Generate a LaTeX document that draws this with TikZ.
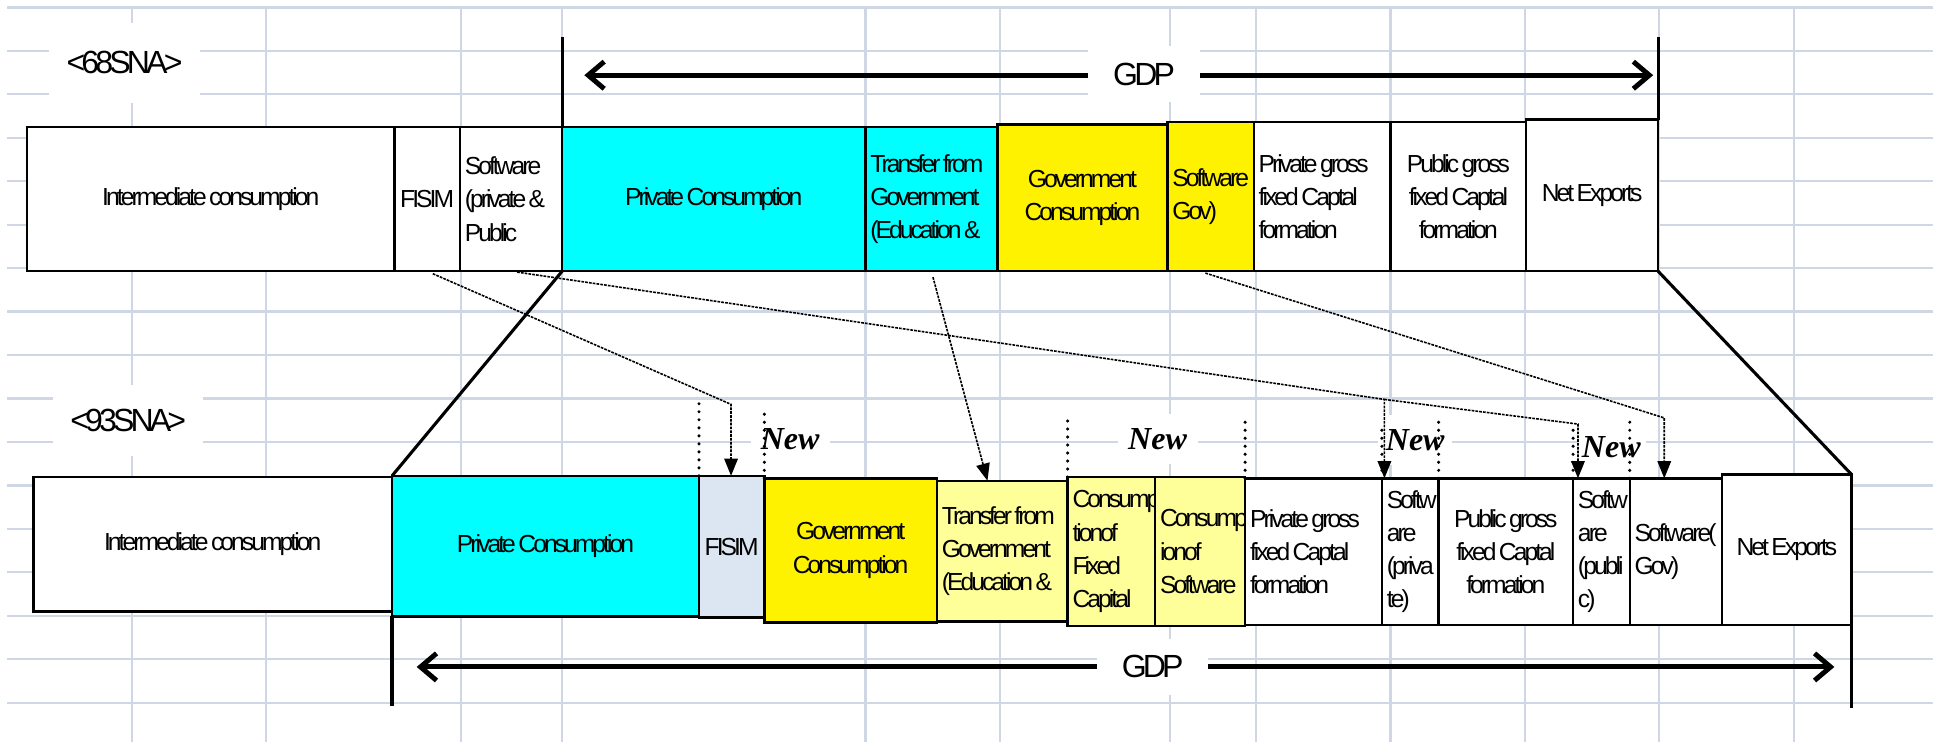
\documentclass[tikz,border=0pt]{standalone}
\usepackage{fontspec}
\setmainfont{Liberation Sans}[LetterSpace=-12]
\newfontfamily\nwfont{Liberation Serif}
\usetikzlibrary{arrows.meta}
\newcommand{\wsp}{\hspace{2pt}}
\definecolor{gridblue}{HTML}{CFD7E5}
\definecolor{aqua}{RGB}{0,255,255}
\definecolor{paleyellow}{HTML}{FFFF99}
\definecolor{fisimblue}{HTML}{DCE6F2}
\tikzset{
  gridline/.style={draw=gridblue, line width=1.8pt},
  cell/.style={draw, fill=white, line width=2pt, outer sep=0pt, inner xsep=4pt, inner ysep=0pt,
    anchor=north west, font=\fontsize{20}{27}\selectfont},
  tag/.style={fill=white, inner sep=0pt, font=\fontsize{26}{30}\selectfont},
  newtag/.style={fill=white, inner sep=0pt, minimum height=40, font=\nwfont\bfseries\itshape\fontsize{26}{30}\selectfont},
  gdpbar/.style={line width=2.5pt},
  gdparrow/.style={line width=4pt, -{Straight Barb[length=13pt,width=22pt]}},
  dotline/.style={line width=2.8pt, dash pattern=on 0pt off 6.5pt, line cap=round},
  link/.style={line width=1.3pt, dash pattern=on 2.2pt off 0.9pt, shorten <=5pt, -{Triangle[length=14pt,width=11pt]}},
}
\begin{document}
\begin{tikzpicture}[x=1pt, y=-1pt]
  \fill[white] (0,0) rectangle (1568,602);
  \useasboundingbox (0,0) rectangle (1568,602);
  \foreach \k in {0,...,16}
    \draw[gridline] (6,{6+35.25*\k}) -- (1568,{6+35.25*\k});
  \foreach \x in {107,216,374,456,702,811,949,1019,1128,1237,1346,1455}
    \draw[gridline] (\x,6) -- (\x,602);

  \node[tag, minimum width=123, minimum height=65] (sna68) at (101,51) {<68SNA>};
  \node[tag, minimum width=122, minimum height=58] (sna93) at (104,341) {<93SNA>};
  \node[tag, minimum width=91, minimum height=45] (gdp68) at (928,60) {GDP};
  \node[tag, minimum width=90, minimum height=46] (gdp93) at (935,541) {GDP};
  \coordinate (gdp68l) at (474,61);
  \coordinate (gdp68r) at (1341,61);
  \coordinate (gdp93l) at (338,541);
  \coordinate (gdp93r) at (1488,541);
  \draw[gdparrow] (gdp68.west |- gdp68l) -- (gdp68l);
  \draw[gdparrow] (gdp68.east |- gdp68r) -- (gdp68r);
  \draw[gdparrow] (gdp93.west |- gdp93l) -- (gdp93l);
  \draw[gdparrow] (gdp93.east |- gdp93r) -- (gdp93r);

  \node[cell, minimum width=298, minimum height=117, text width=290, align=center] (int68) at (22,103) {Intermediate\wsp consumption};
  \node[cell, minimum width=53, minimum height=117, text width=45, align=center] (fisim68) at (320,103) {FISIM};
  \node[cell, minimum width=83, minimum height=117, text width=75, align=left] (sw68) at (373,103) {Software\\(private\wsp\&\\Public};
  \node[cell, fill=aqua, minimum width=246, minimum height=117, text width=238, align=center] (pc68) at (456,103) {Private\wsp Consumption};
  \node[cell, fill=aqua, minimum width=107, minimum height=117, text width=99, align=left] (tr68) at (702,103) {Transfer\wsp from\\Government\\(Education\wsp\&};
  \node[cell, fill=yellow, minimum width=138, minimum height=119, text width=130, align=center] (gov68) at (809,101) {Government\\Consumption};
  \node[cell, fill=yellow, minimum width=70, minimum height=121, text width=62, align=left] (swg68) at (947,99) {Software\\Gov)};
  \node[cell, minimum width=111, minimum height=121, text width=103, align=left] (pgf68) at (1017,99) {Private\wsp gross\\fixed\wsp Captal\\formation};
  \node[cell, minimum width=110, minimum height=121, text width=102, align=center] (ugf68) at (1128,99) {Public\wsp gross\\fixed\wsp Captal\\formation};
  \node[cell, minimum width=107, minimum height=123, text width=99, align=center] (nx68) at (1238,97) {Net\wsp Exports};

  \node[cell, minimum width=291, minimum height=109, text width=283, align=center] (int93) at (27,387) {Intermediate\wsp consumption};
  \node[cell, fill=aqua, minimum width=249, minimum height=114, text width=241, align=center] (pc93) at (318,386) {Private\wsp Consumption};
  \node[cell, fill=fisimblue, minimum width=53, minimum height=115, text width=45, align=center] (fisim93) at (567,386) {FISIM};
  \node[cell, fill=yellow, minimum width=140, minimum height=117, text width=132, align=center] (gov93) at (620,388) {Government\\Consumption};
  \node[cell, fill=paleyellow, minimum width=106, minimum height=114, text width=98, align=left] (tr93) at (760,390) {Transfer\wsp from\\Government\\(Education\wsp\&};
  \node[cell, fill=paleyellow, minimum width=71, minimum height=121, text width=63, align=left] (cfc93) at (866,387) {Consump\\tionof\\Fixed\\Capital};
  \node[cell, fill=paleyellow, minimum width=73, minimum height=121, text width=65, align=left] (cos93) at (937,387) {Consumpt\\ionof\\Software};
  \node[cell, minimum width=111, minimum height=119, text width=103, align=left] (pgf93) at (1010,388) {Private\wsp gross\\fixed\wsp Captal\\formation};
  \node[cell, minimum width=46, minimum height=119, text width=38, align=left] (sp93) at (1121,388) {Softw\\are\\(priva\\te)};
  \node[cell, minimum width=109, minimum height=119, text width=101, align=center] (ugf93) at (1167,388) {Public\wsp gross\\fixed\wsp Captal\\formation};
  \node[cell, minimum width=46, minimum height=119, text width=38, align=left] (su93) at (1276,388) {Softw\\are\\(publi\\c)};
  \node[cell, minimum width=75, minimum height=119, text width=67, align=left] (sg93) at (1322,388) {Software(\\Gov)};
  \node[cell, minimum width=105, minimum height=122, text width=97, align=center] (nx93) at (1397,385) {Net\wsp Exports};

  \draw[gdpbar] (pc68.north west) -- ++(0,-73);
  \draw[gdpbar] (nx68.north east) -- ++(0,-67);
  \draw[gdpbar] (pc93.south west) -- ++(0,73);
  \draw[gdpbar] (nx93.south east) -- ++(0,67);
  \draw[gdpbar] (pc68.south west) -- (pc93.north west);
  \draw[gdpbar] (nx68.south east) -- (nx93.north east);

  \node[newtag, minimum width=64] (new1) at (641,356) {New};
  \node[newtag, minimum width=65] (new2) at (939,356) {New};
  \node[newtag, minimum width=60] (new3) at (1148,357) {New};
  \node[newtag, minimum width=56] (new4) at (1307,363) {New};
  \foreach \b/\h in {pc93.north east/61, gov93.north west/58, cfc93.north west/46, pgf93.north west/50,
                     sp93.north west/43, ugf93.north west/50, su93.north west/44, sg93.north west/46}
    \draw[dotline] (\b) -- ++(0,-\h);

  \coordinate (k1) at (593,328);
  \coordinate (k2) at (1123,324);
  \coordinate (k3) at (1280,344);
  \coordinate (k4) at (1350,339);
  \draw[link] (fisim68.south) -- (k1) -- (k1 |- fisim93.north);
  \draw[link] (sw68.south) -- (k2) -- (k2 |- sp93.north);
  \draw[link, shorten <=0pt] (k2) -- (k3) -- (k3 |- su93.north);
  \draw[link] (tr68.south) -- ([xshift=-12]tr93.north);
  \draw[link] ([xshift=-9]swg68.south) -- (k4) -- (k4 |- sg93.north);
\end{tikzpicture}
\end{document}
